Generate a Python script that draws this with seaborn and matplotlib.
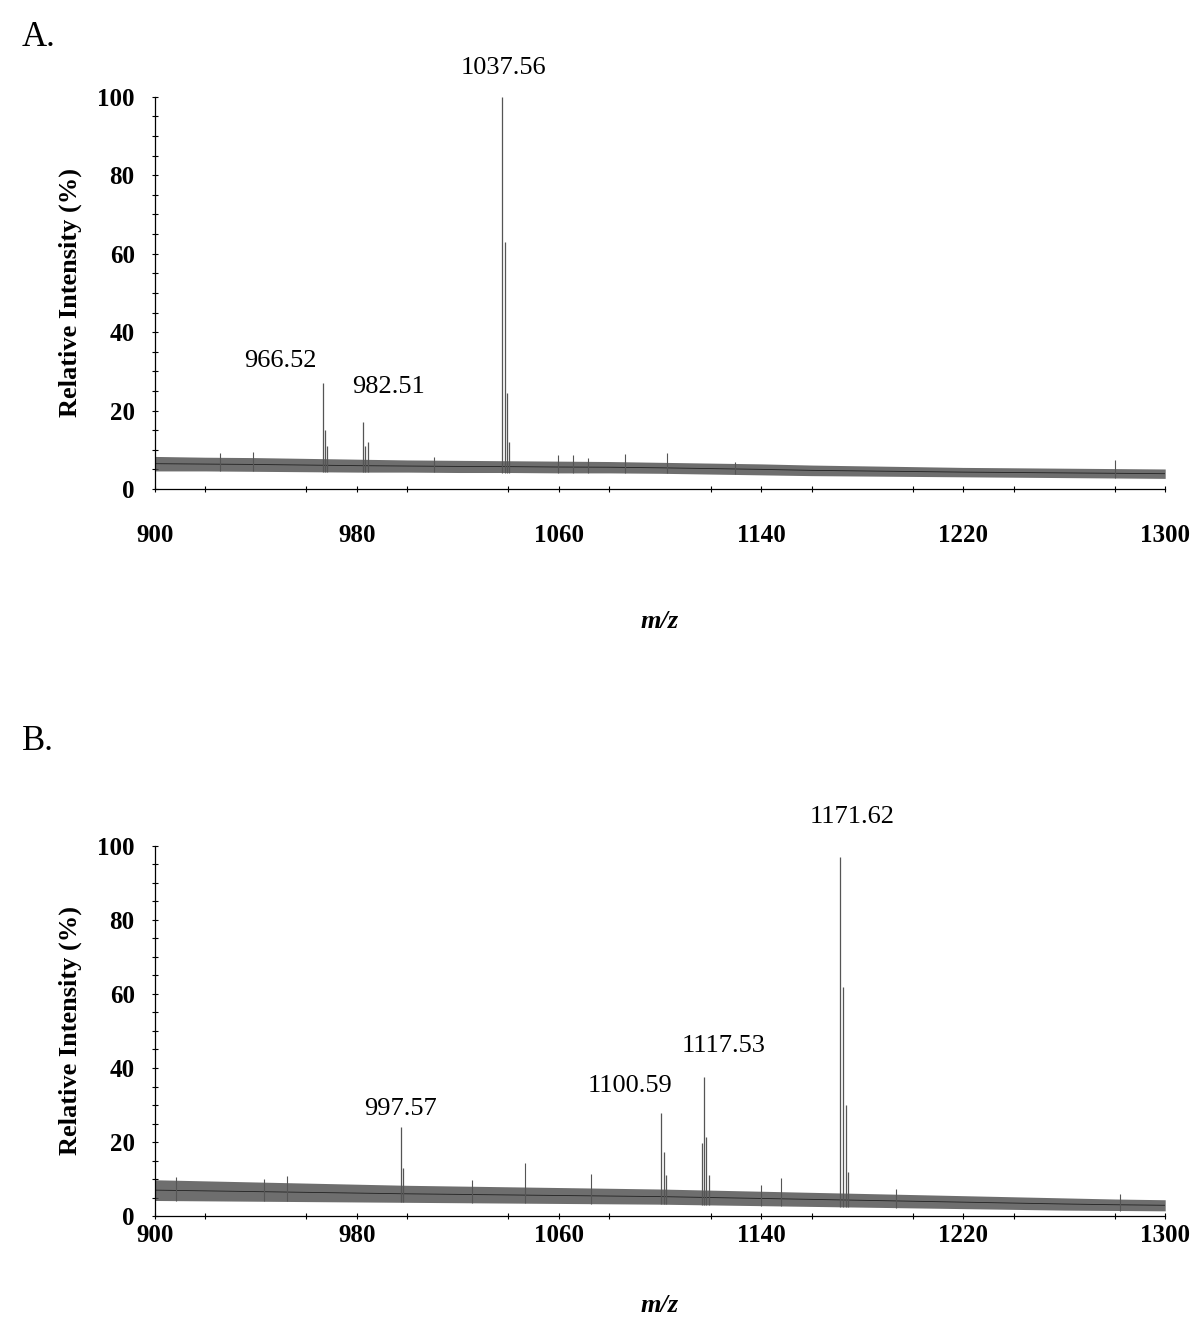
import numpy as np
import matplotlib
matplotlib.use("Agg")
import matplotlib.pyplot as plt
from matplotlib.ticker import MultipleLocator
import seaborn as sns

sns.set_style("ticks")
plt.rcParams['font.family'] = ['Liberation Serif', 'DejaVu Serif']
plt.rcParams['text.color'] = 'black'
plt.rcParams['axes.labelcolor'] = 'black'

# noise envelope of the baseline, read every 20 m/z
env_mz = [900, 920, 940, 960, 980, 1000, 1020, 1040, 1060, 1080, 1100,
          1120, 1140, 1160, 1180, 1200, 1220, 1240, 1260, 1280, 1300]
a_lo = [4.6, 4.6, 4.5, 4.4, 4.3, 4.3, 4.2, 4.2, 4.1, 4.1, 4.0,
        3.8, 3.6, 3.4, 3.3, 3.2, 3.1, 3.0, 2.9, 2.8, 2.7]
a_hi = [8.3, 8.1, 8.0, 7.8, 7.6, 7.4, 7.3, 7.2, 7.1, 7.0, 6.8,
        6.6, 6.4, 6.1, 5.9, 5.7, 5.5, 5.4, 5.3, 5.2, 5.1]
b_lo = [4.2, 4.1, 4.0, 3.9, 3.8, 3.7, 3.6, 3.5, 3.4, 3.3, 3.2,
        3.0, 2.8, 2.6, 2.4, 2.2, 2.0, 1.8, 1.6, 1.5, 1.4]
b_hi = [9.8, 9.5, 9.2, 8.9, 8.6, 8.3, 8.1, 7.9, 7.7, 7.5, 7.3,
        7.0, 6.7, 6.4, 6.1, 5.8, 5.5, 5.2, 4.9, 4.6, 4.4]

# isotope clusters (m/z, relative intensity)
a_peak_mz = [966.5, 967.4, 968.3, 982.5, 983.3, 984.3,
             1037.6, 1038.5, 1039.6, 1040.4]
a_peak_int = [27, 15, 11, 17, 11, 12, 100, 63, 24.5, 12]
a_spike_mz = [925.7, 938.8, 1010.5, 1059.6, 1065.5, 1071.5, 1086.0,
              1102.8, 1129.7, 1280.0]
a_spike_int = [9.2, 9.4, 8.2, 8.7, 8.7, 8.0, 9.0, 9.2, 7.0, 7.3]

b_peak_mz = [997.5, 998.3, 1100.5, 1101.4, 1102.3,
             1116.5, 1117.4, 1118.3, 1119.4,
             1171.4, 1172.5, 1173.5, 1174.6]
b_peak_int = [24, 13, 27.8, 17.4, 11, 19.7, 37.6, 21.4, 11,
              97, 62, 30, 12]
b_spike_mz = [908.3, 943.4, 952.3, 1025.4, 1046.4, 1072.5, 1140.0,
              1148.0, 1193.5, 1282.0]
b_spike_int = [10.6, 10.0, 10.8, 9.7, 14.3, 11.3, 8.4, 10.4, 7.3, 6.0]

a_labels = ["966.52", "982.51", "1037.56"]
b_labels = ["997.57", "1100.59", "1117.53", "1171.62"]

x_ticks = [900, 980, 1060, 1140, 1220, 1300]
y_ticks = [0, 20, 40, 60, 80, 100]

fig = plt.figure(figsize=(12, 13.36), dpi=100)
ax_a = fig.add_axes([0.129, 0.634, 0.842, 0.2935])
ax_b = fig.add_axes([0.129, 0.0898, 0.842, 0.2770])


def draw_panel(ax, lo, hi, pk_mz, pk_int, sp_mz, sp_int, labels, label_xy,
               tick_pad, xlab_pad):
    # baseline noise drawn as a grey band
    ax.fill_between(env_mz, lo, hi, color="#4a4a4a", alpha=0.8, lw=0)
    mid = [(l + h) / 2 for l, h in zip(lo, hi)]
    sns.lineplot(x=env_mz, y=mid, ax=ax, color="#222222", lw=0.6)
    base_pk = np.interp(pk_mz, env_mz, lo)
    ax.vlines(pk_mz, base_pk, pk_int, color="#555555", lw=0.9)
    base_sp = np.interp(sp_mz, env_mz, lo)
    ax.vlines(sp_mz, base_sp, sp_int, color="#555555", lw=0.8)
    for txt, (x, y) in zip(labels, label_xy):
        ax.text(x, y, txt, ha="center", va="center", fontsize=19)
    ax.set_xlim(900, 1300)
    ax.set_ylim(0, 100)
    ax.set_xticks(x_ticks)
    ax.set_yticks(y_ticks)
    ax.xaxis.set_minor_locator(MultipleLocator(40))
    ax.yaxis.set_minor_locator(MultipleLocator(5))
    ax.tick_params(which="both", direction="inout", length=5, width=0.8,
                   colors="black", labelsize=18)
    ax.tick_params(axis="x", pad=tick_pad)
    ax.tick_params(axis="y", pad=12)
    for lab in ax.get_xticklabels() + ax.get_yticklabels():
        lab.set_fontweight("bold")
    ax.set_ylabel("Relative Intensity (%)", fontsize=19, fontweight="bold",
                  labelpad=11)
    ax.set_xlabel("m/z", fontsize=19, fontweight="bold", style="italic",
                  labelpad=xlab_pad)
    sns.despine(ax=ax)
    for s in ["left", "bottom"]:
        ax.spines[s].set_linewidth(0.9)
        ax.spines[s].set_color("black")


draw_panel(ax_a, a_lo, a_hi, a_peak_mz, a_peak_int, a_spike_mz, a_spike_int,
           a_labels, [(949.9, 32.7), (992.7, 26.0), (1038.2, 107.4)], 23, 45)
draw_panel(ax_b, b_lo, b_hi, b_peak_mz, b_peak_int, b_spike_mz, b_spike_int,
           b_labels, [(997.4, 28.9), (1088.1, 35.1), (1125.3, 45.9), (1176.0, 107.8)], 3, 34)

fig.text(22 / 1200, 1 - 38 / 1336, "A.", fontsize=25, va="center", ha="left")
fig.text(22 / 1200, 1 - 742 / 1336, "B.", fontsize=25, va="center", ha="left")

fig.savefig("out.png", dpi=100, facecolor="white")
